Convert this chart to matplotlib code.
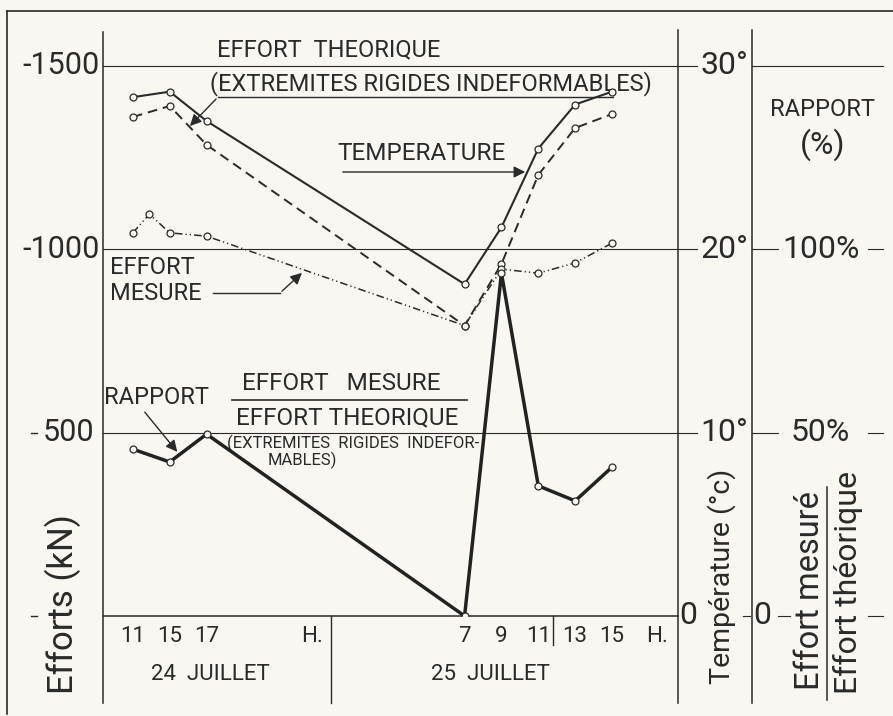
import matplotlib.pyplot as plt
import matplotlib.transforms as mtransforms

# mesures du 24 et 25 juillet (heure)
hours = ["24/11", "24/15", "24/17", "25/07", "25/09", "25/11", "25/13", "25/15"]
temperature = [28.3, 28.6, 27.0, 18.1, 21.2, 25.5, 27.9, 28.6]      # °C
effort_theo = [1361, 1391, 1285, 792, 960, 1203, 1331, 1369]        # kN
rapport = [45.5, 42.0, 49.6, 0.0, 93.5, 35.5, 31.4, 40.6]           # %

hours_mes = ["24/11", "24/13", "24/15", "24/17", "25/07", "25/09", "25/11", "25/13", "25/15"]
effort_mes = [1045, 1096, 1045, 1036, 792, 946, 935, 963, 1017]    # kN

tick_24 = ["11", "15", "17"]
tick_25 = ["7", "9", "11", "13", "15"]

# position of each hour along the time axis (uneven in the original drawing)
slot = {"24/11": 0, "24/13": 0.45, "24/15": 1, "24/17": 2,
        "25/07": 9, "25/09": 10, "25/11": 11, "25/13": 12, "25/15": 13}

INK = '#2a2a2a'
BG = '#f8f7f1'
plt.rcParams['font.family'] = ['Roboto', 'DejaVu Sans']

W, H = 893, 716
fig = plt.figure(figsize=(W / 100, H / 100), dpi=100)
fig.patch.set_facecolor(BG)

# pixel overlay for frame, labels and leaders
deco = fig.add_axes([0, 0, 1, 1])
deco.set_xlim(0, W)
deco.set_ylim(H, 0)
deco.axis('off')

ax = fig.add_axes([103 / W, (H - 616) / H, (678 - 103) / W, (616 - 66) / H])
ax.patch.set_alpha(0)
ax.set_xlim(-0.81, 14.79)
ax.set_ylim(0, 1500)
for s in ax.spines.values():
    s.set_visible(False)
ax.set_xticks([])
ax.set_yticks([])

ax_t = ax.twinx()
ax_t.set_ylim(0, 30)
ax_t.axis('off')
ax_r = ax.twinx()
ax_r.set_ylim(0, 150)
ax_r.axis('off')

bx = mtransforms.blended_transform_factory(ax.transData, deco.transData)
by = mtransforms.blended_transform_factory(deco.transData, ax.transData)
byt = mtransforms.blended_transform_factory(deco.transData, ax_t.transData)
byr = mtransforms.blended_transform_factory(deco.transData, ax_r.transData)

# frame and vertical rules
deco.plot([7, W], [11, 11], color=INK, lw=1.2)
deco.plot([7, 7], [11, 714], color=INK, lw=1.2)
for xv, y0 in [(103, 32), (678, 30), (752, 30)]:
    deco.plot([xv, xv], [y0, 703], color=INK, lw=1.1)

# horizontal grid
for v in [500, 1000, 1500]:
    deco.plot([103, 697], [v, v], color=INK, lw=0.8, transform=by)
deco.plot([103, 678], [0, 0], color=INK, lw=1.1, transform=by)
deco.plot([752, 883], [1500, 1500], color=INK, lw=0.8, transform=by)
for v in [100, 50]:
    deco.plot([752, 778], [v, v], color=INK, lw=0.8, transform=byr)
    deco.plot([868, 883], [v, v], color=INK, lw=0.8, transform=byr)
deco.plot([778, 790], [0, 0], color=INK, lw=0.8, transform=byr)
deco.plot([868, 883], [0, 0], color=INK, lw=0.8, transform=byr)
deco.plot([743, 750], [0, 0], color=INK, lw=0.8, transform=byr)

# day separators
deco.plot([331, 331], [616, 703], color=INK, lw=1.0)
deco.plot([553, 553], [616, 645], color=INK, lw=1.0)

# left scale
for v in [1500, 1000]:
    deco.text(100, v, "-%d" % v, transform=by, ha='right', va='center',
              fontsize=22, color=INK)
deco.text(94, 500, "500", transform=by, ha='right', va='center', fontsize=22, color=INK)
deco.plot([31, 37], [500, 500], color=INK, lw=1.0, transform=by)
deco.plot([31, 37], [0, 0], color=INK, lw=1.0, transform=by)
deco.text(63, 604, "Efforts (kN)", rotation=90, ha='center', va='center',
          fontsize=25, color=INK)

# temperature scale
for v in [30, 20, 10]:
    deco.text(700, v, "%d°" % v, transform=byt, ha='left', va='center',
              fontsize=23, color=INK)
deco.text(688, 0, "0", transform=byt, ha='center', va='center', fontsize=23, color=INK)
deco.text(722, 576, "Température (°c)", rotation=90, ha='center', va='center',
          fontsize=20.5, color=INK)

# ratio scale
deco.text(821, 100, "100%", transform=byr, ha='center', va='center', fontsize=23, color=INK)
deco.text(820, 50, "50%", transform=byr, ha='center', va='center', fontsize=23, color=INK)
deco.text(762, 0, "0", transform=byr, ha='center', va='center', fontsize=23, color=INK)
deco.text(823, 110, "RAPPORT", ha='center', va='center', fontsize=17, color=INK)
deco.text(823, 145, "(%)", ha='center', va='center', fontsize=23, color=INK)
deco.text(810, 590, "Effort mesuré", rotation=90, ha='center', va='center',
          fontsize=23.5, color=INK)
deco.text(848, 582, "Effort théorique", rotation=90, ha='center', va='center',
          fontsize=23, color=INK)
deco.plot([827, 827], [487, 700], color=INK, lw=1.1)

# time axis labels
for lab, h in zip(tick_24, ["24/11", "24/15", "24/17"]):
    deco.text(slot[h], 637, lab, transform=bx, ha='center', va='center',
              fontsize=16, color=INK)
for lab, h in zip(tick_25, ["25/07", "25/09", "25/11", "25/13", "25/15"]):
    deco.text(slot[h], 637, lab, transform=bx, ha='center', va='center',
              fontsize=16, color=INK)
deco.text(312, 637, "H.", ha='center', va='center', fontsize=16, color=INK)
deco.text(657, 637, "H.", ha='center', va='center', fontsize=16, color=INK)
deco.text(210, 674, "24  JUILLET", ha='center', va='center', fontsize=16, color=INK)
deco.text(490, 674, "25  JUILLET", ha='center', va='center', fontsize=16, color=INK)

# data series
xs = [slot[h] for h in hours]
xm = [slot[h] for h in hours_mes]
mk = dict(marker='o', ms=5, mfc=BG, mec=INK, mew=0.9)
ax_t.plot(xs, temperature, color=INK, lw=1.5, **mk)
ax.plot(xs, effort_theo, color=INK, lw=1.4, dashes=(5, 3), **mk)
ax.plot(xm, effort_mes, color=INK, lw=1.1, dashes=(5, 2, 0.8, 2, 0.8, 2), **mk)
ax_r.plot(xs, rapport, color='#222222', lw=2.5, solid_joinstyle='miter', **mk)

# captions and leaders
arrow = dict(arrowstyle='-|>', color=INK, lw=1.0, mutation_scale=17)
deco.text(329, 50, "EFFORT  THEORIQUE", ha='center', va='center', fontsize=17, color=INK)
deco.text(431, 84, "(EXTREMITES RIGIDES INDEFORMABLES)", ha='center', va='center',
          fontsize=17, color=INK)
deco.plot([613, 218], [97, 97], color=INK, lw=1.0)
deco.annotate("", xy=(188, 128), xytext=(218, 97), arrowprops=arrow)

deco.text(422, 153, "TEMPERATURE", ha='center', va='center', fontsize=17.5, color=INK)
deco.annotate("", xy=(528, 172), xytext=(340, 172), arrowprops=arrow)

deco.text(110, 267, "EFFORT", ha='left', va='center', fontsize=17, color=INK)
deco.text(110, 293, "MESURE", ha='left', va='center', fontsize=17, color=INK)
deco.plot([213, 280], [293, 293], color=INK, lw=1.0)
deco.annotate("", xy=(304, 271), xytext=(280, 293), arrowprops=arrow)

deco.text(104, 398, "RAPPORT", ha='left', va='center', fontsize=17, color=INK)
deco.annotate("", xy=(179, 454), xytext=(143, 410), arrowprops=arrow)
deco.text(341, 383, "EFFORT   MESURE", ha='center', va='center', fontsize=17.5, color=INK)
deco.plot([232, 467], [400, 400], color=INK, lw=1.2)
deco.text(347, 418, "EFFORT THEORIQUE", ha='center', va='center', fontsize=17.5, color=INK)
deco.text(353, 443, "(EXTREMITES  RIGIDES  INDEFOR-", ha='center', va='center',
          fontsize=12, color=INK)
deco.text(302, 460, "MABLES)", ha='center', va='center', fontsize=12, color=INK)

fig.savefig("out.png", dpi=100, facecolor=BG)
